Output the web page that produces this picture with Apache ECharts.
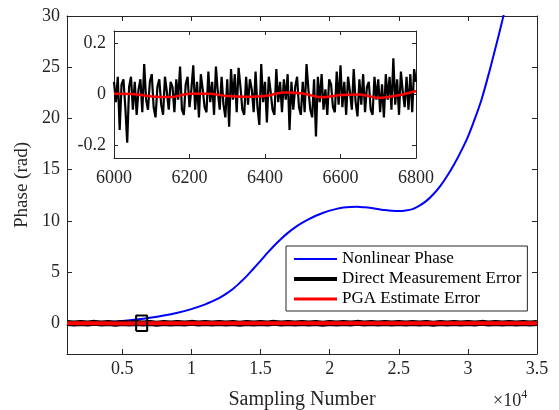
<!DOCTYPE html>
<html><head><meta charset="utf-8">
<script src="https://cdn.jsdelivr.net/npm/echarts@6/dist/echarts.min.js"></script>
<style>html,body{margin:0;padding:0;background:#fff}#c{width:559px;height:410px}</style>
</head><body><div id="c"></div>
<script>
// ---- data ----
const phaseX = [1000,2000,3000,4000,5000,6000,7000,8000,9000,10000,10500,11000,11500,12000,12500,13000,13500,14000,14500,15000,15500,16000,16500,17000,17500,18000,18500,19000,19500,20000,20500,21000,21500,22000,22500,23000,23500,24000,24500,25000,25500,26000,26500,27000,27500,28000,28500,29000,29500,30000,30500,31000,31500,32000,32500,33000];
const phaseY = [0,0.02,0.06,0.13,0.23,0.36,0.53,0.75,1.03,1.38,1.6,1.85,2.13,2.45,2.87,3.35,3.95,4.6,5.35,6.1,6.87,7.6,8.26,8.85,9.36,9.8,10.17,10.5,10.77,11.0,11.17,11.3,11.36,11.37,11.32,11.25,11.15,11.05,10.98,10.95,11.0,11.15,11.48,11.95,12.6,13.4,14.38,15.5,16.78,18.2,19.95,21.9,24.3,26.9,29.6,32.5];

const mainDirectStart = 1000, mainDirectStep = 500;
const mainDirect = [0.02,-0.03,0.03,-0.02,0.04,-0.03,0.02,-0.04,0.03,-0.02,
 0.03,-0.03,0.02,-0.04,0.03,-0.02,0.03,-0.03,0.04,-0.02,
 0.03,-0.03,0.02,-0.03,0.03,-0.04,0.02,-0.03,0.03,-0.02,
 0.04,-0.03,0.02,-0.03,0.03,-0.02,0.03,-0.04,0.03,-0.03,
 0.02,-0.03,0.04,-0.02,0.03,-0.03,0.02,-0.03,0.03,-0.02,
 0.03,-0.03,0.03,-0.04,0.02,-0.02,0.03,-0.03,0.03,-0.03,
 0.04,-0.02,0.02,-0.03,0.03,-0.03,0.03,-0.02,0.02];

const mainPGAStart = 1000, mainPGAStep = 2000;
const mainPGA = [0.0,0.005,-0.01,0.004,-0.006,0.008,-0.004,0.003,-0.009,0.006,-0.002,0.007,-0.005,0.004,-0.008,0.005,-0.003,0.006];

const insetDirectStart = 6000, insetDirectStep = 5;
const insetDirect = [
 0.05,-0.03,0.07,-0.14,0.04,0.06,-0.05,-0.19,0.03,0.07,
 -0.06,0.05,-0.08,0.02,0.06,-0.07,0.12,-0.02,-0.06,0.05,
 0.08,-0.05,-0.09,0.03,0.06,-0.04,-0.08,0.07,0.01,-0.06,
 0.05,0.03,-0.07,0.06,-0.02,0.11,-0.06,-0.08,0.04,0.07,
 -0.05,0.02,0.115,-0.06,0.05,-0.09,0.08,0.02,-0.05,-0.07,
 0.09,-0.03,0.05,-0.08,0.11,0.01,-0.06,0.07,-0.04,-0.09,
 0.06,-0.127,0.10,-0.02,0.08,-0.07,0.105,0.03,-0.06,-0.08,
 0.07,-0.04,0.06,0.02,-0.07,0.09,-0.05,-0.12,0.12,-0.03,
 0.05,-0.11,0.07,0.01,-0.06,-0.08,0.10,-0.03,0.05,-0.07,
 0.06,-0.02,0.08,-0.14,0.05,-0.06,0.03,0.07,-0.05,-0.08,
 0.05,-0.07,0.12,0.02,-0.06,-0.09,0.06,-0.165,0.07,-0.03,
 0.08,-0.06,0.02,-0.08,0.06,0.04,-0.05,-0.07,0.09,-0.04,
 0.115,-0.05,0.05,-0.08,0.07,0.01,-0.06,0.10,-0.03,-0.086,
 0.06,-0.04,0.08,-0.07,0.03,0.05,-0.06,-0.08,0.07,-0.02,
 0.06,-0.07,0.04,-0.09,0.08,-0.02,0.07,-0.06,0.143,-0.04,
 0.06,-0.08,0.09,0.01,-0.05,0.07,-0.06,0.08,-0.07,0.10,
 0.05];

const insetPGAX = [6000,6050,6100,6150,6200,6250,6300,6350,6400,6450,6500,6550,6600,6650,6700,6750,6800];
const insetPGAY = [0.003,0.002,-0.008,-0.01,0.003,0.003,-0.006,-0.009,-0.006,0.008,0.004,-0.011,-0.002,0.0,-0.013,-0.004,0.014];

const boxX = [6000,6800,6800,6000,6000];
const boxY = [-0.75,-0.75,0.75,0.75,-0.75];

const mainXTicks = [5000,10000,15000,20000,25000,30000,35000];
const mainYTicks = [0,5,10,15,20,25,30];
const insetYTicks = [-0.2,0,0.2];
const seriesNames = ['Nonlinear Phase','Direct Measurement Error','PGA Estimate Error'];

// ---- helpers ----
const zip = (xs, ys) => xs.map((x, i) => [x, ys[i]]);
const seq = (start, step, ys) => ys.map((y, i) => [start + i * step, y]);
const axisColor = '#262626';
const font = '"Liberation Serif","Times New Roman",serif';
const lbl = (extra) => Object.assign({fontFamily: font, fontSize: 18, color: axisColor}, extra);
const line = {show: true, onZero: false, lineStyle: {color: axisColor, width: 1}};
const tick = (len, extra) => Object.assign({show: true, inside: true, length: len, lineStyle: {color: axisColor, width: 1}}, extra);

const chart = echarts.init(document.getElementById('c'), null, {renderer: 'canvas'});
chart.setOption({
  animation: false,
  backgroundColor: '#fff',
  grid: [
    {left: 67, top: 16, right: 22, bottom: 56, outerBoundsMode: 'none', containLabel: false},
    {left: 114, top: 31, right: 143, bottom: 252, outerBoundsMode: 'none', containLabel: false,
     show: true, backgroundColor: '#fff', borderWidth: 0}
  ],
  title: {
    text: '{n|×10}{s|4}', left: 493, top: 389, padding: 0,
    textStyle: {fontFamily: font, fontWeight: 'normal', color: axisColor,
      rich: {n: {fontFamily: font, fontSize: 18, color: axisColor, lineHeight: 21, verticalAlign: 'bottom'},
             s: {fontFamily: font, fontSize: 12, color: axisColor, lineHeight: 12, verticalAlign: 'top'}}}
  },
  legend: {
    orient: 'vertical', left: 286, top: 246, padding: [3, 6, 2, 6], itemGap: 0,
    itemWidth: 43, itemHeight: 14, backgroundColor: '#fff', borderColor: axisColor, borderWidth: 1,
    textStyle: {fontFamily: font, fontSize: 17, lineHeight: 20, color: '#000'},
    itemStyle: {opacity: 0},
    data: [
      {name: seriesNames[0], lineStyle: {width: 2}, itemStyle: {opacity: 0}},
      {name: seriesNames[1], lineStyle: {width: 4}, itemStyle: {opacity: 0}},
      {name: seriesNames[2], lineStyle: {width: 3}, itemStyle: {opacity: 0}}
    ]
  },
  xAxis: [
    {type: 'value', gridIndex: 0, position: 'bottom', min: 1000, max: 35000,
     axisLine: line, axisTick: tick(5, {customValues: mainXTicks}),
     axisLabel: lbl({customValues: mainXTicks, margin: 6, formatter: v => String(v / 10000)}),
     splitLine: {show: false},
     name: 'Sampling Number', nameLocation: 'middle', nameGap: 36,
     nameTextStyle: {fontFamily: font, fontSize: 20, color: axisColor}},
    {type: 'value', gridIndex: 0, position: 'top', min: 1000, max: 35000,
     axisLine: line, axisTick: tick(5, {customValues: mainXTicks}),
     axisLabel: {show: false}, splitLine: {show: false}},
    {type: 'value', gridIndex: 1, position: 'bottom', min: 6000, max: 6800, interval: 200,
     axisLine: line, axisTick: tick(4), axisLabel: lbl({margin: 11, formatter: v => String(v)}), splitLine: {show: false}},
    {type: 'value', gridIndex: 1, position: 'top', min: 6000, max: 6800, interval: 200,
     axisLine: line, axisTick: tick(4), axisLabel: {show: false}, splitLine: {show: false}}
  ],
  yAxis: [
    {type: 'value', gridIndex: 0, position: 'left', min: -3, max: 30,
     axisLine: line, axisTick: tick(5, {customValues: mainYTicks}),
     axisLabel: lbl({customValues: mainYTicks, margin: 7}), splitLine: {show: false},
     name: 'Phase (rad)', nameLocation: 'middle', nameGap: 32,
     nameTextStyle: {fontFamily: font, fontSize: 19, color: axisColor}},
    {type: 'value', gridIndex: 0, position: 'right', min: -3, max: 30,
     axisLine: line, axisTick: tick(5, {customValues: mainYTicks}),
     axisLabel: {show: false}, splitLine: {show: false}},
    {type: 'value', gridIndex: 1, position: 'left', min: -0.25, max: 0.25,
     axisLine: line, axisTick: tick(4, {customValues: insetYTicks}),
     axisLabel: lbl({customValues: insetYTicks, margin: 8}), splitLine: {show: false}},
    {type: 'value', gridIndex: 1, position: 'right', min: -0.25, max: 0.25,
     axisLine: line, axisTick: tick(4, {customValues: insetYTicks}),
     axisLabel: {show: false}, splitLine: {show: false}}
  ],
  series: [
    {name: seriesNames[0], type: 'line', xAxisIndex: 0, yAxisIndex: 0, symbol: 'none', smooth: 0.3,
     data: zip(phaseX, phaseY), lineStyle: {color: '#0000ff', width: 2}, itemStyle: {color: '#0000ff'}, z: 2},
    {name: seriesNames[1], type: 'line', xAxisIndex: 0, yAxisIndex: 0, symbol: 'none',
     data: seq(mainDirectStart, mainDirectStep, mainDirect), lineStyle: {color: '#000', width: 6}, itemStyle: {color: '#000'}, z: 3},
    {name: seriesNames[2], type: 'line', xAxisIndex: 0, yAxisIndex: 0, symbol: 'none',
     data: seq(mainPGAStart, mainPGAStep, mainPGA), lineStyle: {color: '#ff0000', width: 4}, itemStyle: {color: '#ff0000'}, z: 4},
    {name: 'zoom box', type: 'line', xAxisIndex: 0, yAxisIndex: 0, symbol: 'none',
     data: zip(boxX, boxY), lineStyle: {color: '#000', width: 2}, z: 5},
    {name: 'inset direct', type: 'line', xAxisIndex: 2, yAxisIndex: 2, symbol: 'none',
     data: seq(insetDirectStart, insetDirectStep, insetDirect), lineStyle: {color: '#000', width: 2.2}, z: 6},
    {name: 'inset pga', type: 'line', xAxisIndex: 2, yAxisIndex: 2, symbol: 'none', smooth: 0.4,
     data: zip(insetPGAX, insetPGAY), lineStyle: {color: '#ff0000', width: 2.5}, z: 7}
  ]
});
</script>
</body></html>
